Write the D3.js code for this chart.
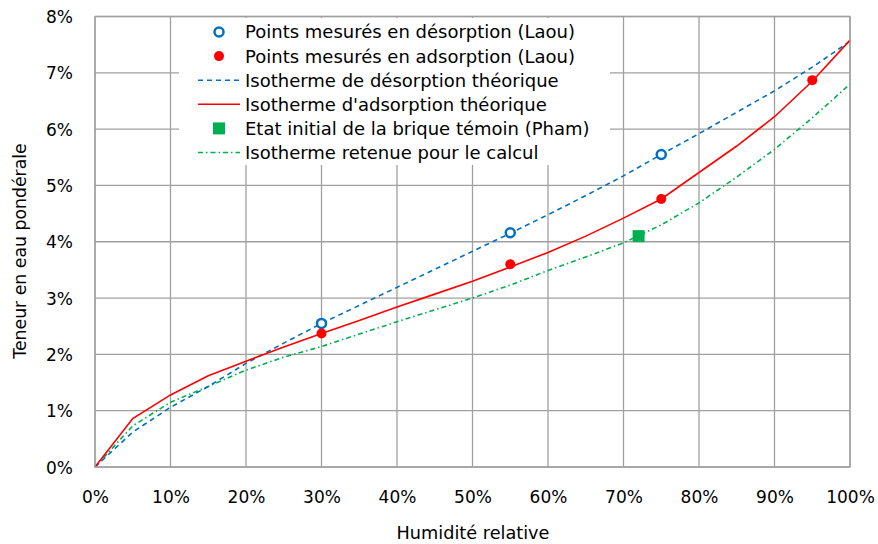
<!DOCTYPE html>
<html><head><meta charset="utf-8">
<script src="https://cdn.jsdelivr.net/npm/d3@7"></script>
<style>body{margin:0;background:#fff}svg{display:block;font-family:"DejaVu Sans",sans-serif}</style>
</head><body><svg id="c" width="878" height="544"></svg>
<script>
const hrGrid = [0,5,10,15,20,25,30,35,40,45,50,55,60,65,70,75,80,85,90,95,100];
const desorptionTheo = [0,0.62,1.06,1.43,1.84,2.2,2.55,2.87,3.19,3.51,3.83,4.15,4.48,4.82,5.17,5.55,5.92,6.3,6.68,7.1,7.56];
const adsorptionTheo = [0,0.86,1.28,1.62,1.88,2.13,2.37,2.6,2.84,3.07,3.3,3.55,3.81,4.1,4.42,4.76,5.23,5.7,6.22,6.85,7.58];
const retenue = [0,0.73,1.15,1.43,1.72,1.95,2.14,2.36,2.58,2.79,3.0,3.23,3.49,3.73,3.98,4.3,4.69,5.15,5.64,6.2,6.8];
const desorptionPtsX = [30,55,75];
const desorptionPtsY = [2.55,4.16,5.55];
const adsorptionPtsX = [30,55,75,95];
const adsorptionPtsY = [2.37,3.6,4.76,6.87];
const temoinX = [72];
const temoinY = [4.1];
const xTicks = [0,10,20,30,40,50,60,70,80,90,100];
const yTicks = [0,1,2,3,4,5,6,7,8];
const legendLabels = ["Points mesurés en désorption (Laou)","Points mesurés en adsorption (Laou)","Isotherme de désorption théorique","Isotherme d'adsorption théorique","Etat initial de la brique témoin (Pham)","Isotherme retenue pour le calcul"];

const blue="#0070C0", red="#FF0000", green="#00B050", grid="#A0A0A0";
const FONT="DejaVu Sans, sans-serif";
const svg=d3.select("#c");
const x=d3.scaleLinear().domain([0,100]).range([95,850]);
const y=d3.scaleLinear().domain([0,8]).range([467,16.5]);

// grid
svg.append("g").selectAll("line").data(xTicks).join("line")
  .attr("x1",d=>x(d)).attr("x2",d=>x(d)).attr("y1",y(0)).attr("y2",y(8))
  .attr("stroke",grid).attr("stroke-width",1.3);
svg.append("g").selectAll("line").data(yTicks).join("line")
  .attr("x1",x(0)).attr("x2",x(100)).attr("y1",d=>y(d)).attr("y2",d=>y(d))
  .attr("stroke",grid).attr("stroke-width",1.3);

// axes labels
const xAxis=d3.axisBottom(x).tickValues(xTicks).tickFormat(d=>d+"%").tickSize(0).tickPadding(0);
const gx=svg.append("g").attr("transform",`translate(0,${y(0)})`).call(xAxis);
gx.select(".domain").remove();
gx.selectAll("text").attr("dy",null).attr("y",36).attr("font-size",17).attr("fill","#000").attr("font-family",FONT);
const yAxis=d3.axisLeft(y).tickValues(yTicks).tickFormat(d=>d+"%").tickSize(0).tickPadding(0);
const gy=svg.append("g").attr("transform",`translate(73,0)`).call(yAxis);
gy.select(".domain").remove();
gy.selectAll("text").attr("dy","0.36em").attr("x",0).attr("font-size",17).attr("fill","#000").attr("font-family",FONT);

svg.append("text").attr("x",473).attr("y",539).attr("text-anchor","middle").attr("font-size",17.7).text("Humidité relative");
svg.append("text").attr("transform","translate(26,251) rotate(-90)").attr("text-anchor","middle").attr("font-size",17.3).text("Teneur en eau pondérale");

// lines
const line=d3.line().x(d=>x(d[0])).y(d=>y(d[1]));
const mk=(arr)=>hrGrid.map((h,i)=>[h,arr[i]]);
svg.append("path").datum(mk(retenue)).attr("d",line).attr("fill","none").attr("stroke",green).attr("stroke-width",1.6).attr("stroke-dasharray","5,3,1.5,3");
svg.append("path").datum(mk(desorptionTheo)).attr("d",line).attr("fill","none").attr("stroke",blue).attr("stroke-width",1.6).attr("stroke-dasharray","5,4");
svg.append("path").datum(mk(adsorptionTheo)).attr("d",line).attr("fill","none").attr("stroke",red).attr("stroke-width",1.6);

// points
svg.append("g").selectAll("circle").data(desorptionPtsX.map((v,i)=>[v,desorptionPtsY[i]])).join("circle")
  .attr("cx",d=>x(d[0])).attr("cy",d=>y(d[1])).attr("r",4.5).attr("fill","#fff").attr("stroke",blue).attr("stroke-width",2.5);
svg.append("g").selectAll("circle").data(adsorptionPtsX.map((v,i)=>[v,adsorptionPtsY[i]])).join("circle")
  .attr("cx",d=>x(d[0])).attr("cy",d=>y(d[1])).attr("r",5).attr("fill",red);
svg.append("g").selectAll("rect").data(temoinX.map((v,i)=>[v,temoinY[i]])).join("rect")
  .attr("x",d=>x(d[0])-6).attr("y",d=>y(d[1])-6).attr("width",12).attr("height",12).attr("fill",green);

// plot border
svg.append("rect").attr("x",x(0)).attr("y",y(8)).attr("width",x(100)-x(0)).attr("height",y(0)-y(8)).attr("fill","none").attr("stroke",grid).attr("stroke-width",1.3);

// legend
const lg=svg.append("g");
lg.append("rect").attr("x",179).attr("y",18).attr("width",431).attr("height",147).attr("fill","#fff");
const ly=i=>32+i*24.1;
lg.append("circle").attr("cx",219).attr("cy",ly(0)).attr("r",4.5).attr("fill","#fff").attr("stroke",blue).attr("stroke-width",2.5);
lg.append("circle").attr("cx",219).attr("cy",ly(1)).attr("r",5).attr("fill",red);
lg.append("line").attr("x1",198).attr("x2",240).attr("y1",ly(2)).attr("y2",ly(2)).attr("stroke",blue).attr("stroke-width",1.6).attr("stroke-dasharray","5,4");
lg.append("line").attr("x1",198).attr("x2",240).attr("y1",ly(3)).attr("y2",ly(3)).attr("stroke",red).attr("stroke-width",1.6);
lg.append("rect").attr("x",213).attr("y",ly(4)-6).attr("width",12).attr("height",12).attr("fill",green);
lg.append("line").attr("x1",198).attr("x2",240).attr("y1",ly(5)).attr("y2",ly(5)).attr("stroke",green).attr("stroke-width",1.6).attr("stroke-dasharray","5,3,1.5,3");
lg.selectAll("text").data(legendLabels).join("text").attr("x",245).attr("y",(d,i)=>ly(i)).attr("dy","0.36em").attr("font-size",18).text(d=>d);
</script></body></html>
